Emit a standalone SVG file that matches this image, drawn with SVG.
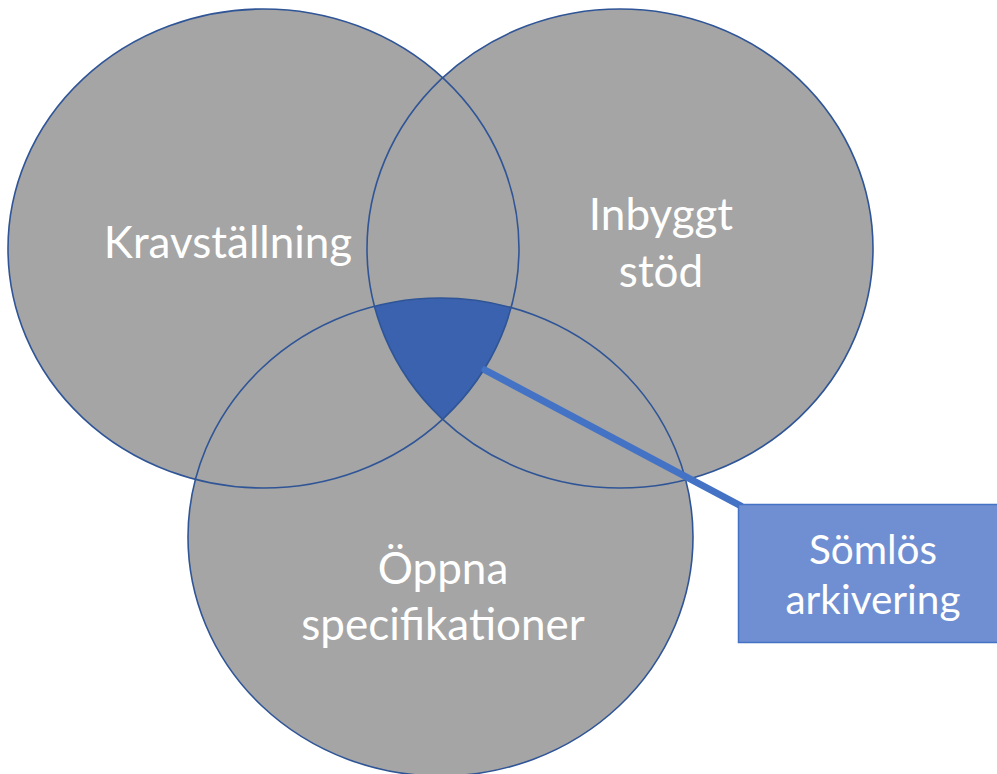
<svg xmlns="http://www.w3.org/2000/svg" width="997" height="774" viewBox="0 0 997 774">
  <style>
    .fill { fill: #A5A5A5; stroke: none; }
    .ring { fill: none; stroke: #2F5597; stroke-width: 1.6; }
    .lbl { font-family: Lato, "Noto Sans", "DejaVu Sans", sans-serif; font-size: 44px; fill: #FFFFFF; text-anchor: middle; }
    .box { font-size: 40.5px; }
  </style>
  <defs>
    <clipPath id="clipL"><ellipse cx="263.5" cy="248.5" rx="255.5" ry="239.5"/></clipPath>
    <clipPath id="clipR"><ellipse cx="620" cy="248.5" rx="253" ry="239.5"/></clipPath>
  </defs>
  <rect width="997" height="774" fill="#FFFFFF"/>

  <g id="fills">
    <ellipse class="fill" cx="263.5" cy="248.5" rx="255.5" ry="239.5"/>
    <ellipse class="fill" cx="620" cy="248.5" rx="253" ry="239.5"/>
    <ellipse class="fill" cx="440.5" cy="537" rx="252.5" ry="239"/>
  </g>

  <g id="center-region" clip-path="url(#clipL)">
    <g clip-path="url(#clipR)">
      <ellipse cx="440.5" cy="537" rx="252.5" ry="239" fill="#3A62AE"/>
    </g>
  </g>

  <g id="node-kravstallning">
    <ellipse class="ring" cx="263.5" cy="248.5" rx="255.5" ry="239.5"/>
    <text class="lbl" x="228" y="258">Kravställning</text>
  </g>
  <g id="node-inbyggt">
    <ellipse class="ring" cx="620" cy="248.5" rx="253" ry="239.5"/>
    <text class="lbl" x="661" y="230">Inbyggt</text>
    <text class="lbl" x="661" y="287">stöd</text>
  </g>
  <g id="node-oppna">
    <ellipse class="ring" cx="440.5" cy="537" rx="252.5" ry="239"/>
    <text class="lbl" x="443" y="584">Öppna</text>
    <text class="lbl" x="443" y="640">specifikationer</text>
  </g>

  <g id="connectors">
    <line x1="485" y1="370" x2="741" y2="506" stroke="#4472C4" stroke-width="7" stroke-linecap="round"/>
  </g>

  <g id="node-somlos">
    <rect x="738.5" y="504.5" width="270" height="138" fill="#6F8FD2" stroke="#4472C4" stroke-width="1.5"/>
    <text class="lbl box" x="873" y="564">Sömlös</text>
    <text class="lbl box" x="873" y="613.5">arkivering</text>
  </g>
</svg>
